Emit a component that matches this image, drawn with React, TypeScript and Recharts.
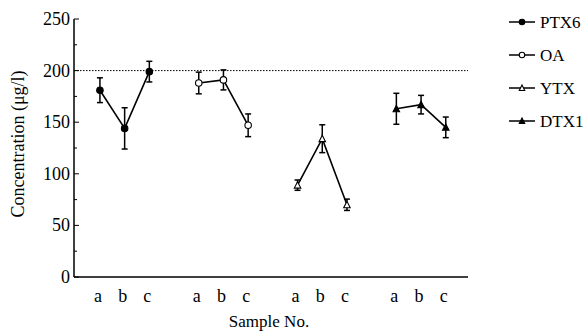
import * as React from "react"
import { LineChart, Line, XAxis, YAxis, ErrorBar, ReferenceLine, Legend } from "recharts"

const sampleLabels = ["a", "b", "c"]
// x slot of each sample on the axis (empty slot between groups)
const ptx6Slots = [1, 2, 3]
const oaSlots = [5, 6, 7]
const ytxSlots = [9, 10, 11]
const dtx1Slots = [13, 14, 15]

const ptx6Values = [181, 144, 199]
const ptx6Errors = [12, 20, 10]
const oaValues = [188, 191, 147]
const oaErrors = [10.5, 9.7, 11]
const ytxValues = [89, 134, 70]
const ytxErrors = [5, 13.5, 5.5]
const dtx1Values = [163, 167, 145]
const dtx1Errors = [15, 9, 10]

const yTicks = [0, 25, 50, 75, 100, 125, 150, 175, 200, 225, 250]
const limitValue = 200

const SERIF = '"Liberation Serif"'
const textStyle = { fontFamily: SERIF }

const build = (slots: number[], values: number[], errors: number[]) =>
  slots.map((x, i) => ({ x, label: sampleLabels[i], value: values[i], err: errors[i] }))

type MarkerKind = "filledCircle" | "openCircle" | "openTriangle" | "filledTriangle"

const Marker = ({ cx, cy, kind, size }: { cx: number; cy: number; kind: MarkerKind; size: number }) => {
  if (kind === "filledCircle" || kind === "openCircle") {
    return (
      <circle
        cx={cx}
        cy={cy}
        r={size / 2}
        fill={kind === "filledCircle" ? "#000" : "#fff"}
        stroke="#000"
        strokeWidth={1.1}
      />
    )
  }
  const h = size * 0.9
  const pts = `${cx},${cy - h / 2 - 0.5} ${cx - size / 2},${cy + h / 2} ${cx + size / 2},${cy + h / 2}`
  return (
    <polygon
      points={pts}
      fill={kind === "filledTriangle" ? "#000" : "#fff"}
      stroke="#000"
      strokeWidth={1.1}
    />
  )
}

const series = [
  { name: "PTX6", kind: "filledCircle" as MarkerKind, data: build(ptx6Slots, ptx6Values, ptx6Errors) },
  { name: "OA", kind: "openCircle" as MarkerKind, data: build(oaSlots, oaValues, oaErrors) },
  { name: "YTX", kind: "openTriangle" as MarkerKind, data: build(ytxSlots, ytxValues, ytxErrors) },
  { name: "DTX1", kind: "filledTriangle" as MarkerKind, data: build(dtx1Slots, dtx1Values, dtx1Errors) },
]

const allSlots = [...ptx6Slots, ...oaSlots, ...ytxSlots, ...dtx1Slots]

const YTick = (props: any) => {
  const { x, y, payload } = props
  const major = payload.value % 50 === 0
  return (
    <g>
      <line x1={x} y1={y} x2={x + (major ? 5 : 3)} y2={y} stroke="#000" strokeWidth={1} />
      {major && (
        <text x={x - 4} y={y} dy={6} textAnchor="end" fontSize={18} style={textStyle} fill="#000">
          {payload.value}
        </text>
      )}
    </g>
  )
}

const XTick = (props: any) => {
  const { x, y, payload } = props
  const idx = allSlots.indexOf(payload.value)
  return (
    <text x={x - 2} y={y} dy={23} textAnchor="middle" fontSize={18} style={textStyle} fill="#000">
      {sampleLabels[idx % 3]}
    </text>
  )
}

const LegendContent = () => (
  <svg width={80} height={130}>
    {series.map((s, i) => {
      const y = 12 + i * 33
      return (
        <g key={s.name}>
          <line x1={4} y1={y} x2={30} y2={y} stroke="#000" strokeWidth={1.5} />
          <Marker cx={17} cy={y} kind={s.kind} size={5.5} />
          <text x={35} y={y} dy={6} fontSize={17} style={textStyle} fill="#000">
            {s.name}
          </text>
        </g>
      )
    })}
  </svg>
)

export default function App() {
  return (
    <div style={{ position: "absolute", left: 0, top: 0, background: "#fff", fontFamily: SERIF }}>
      <style>{`.recharts-wrapper, .recharts-wrapper text, .recharts-legend-wrapper text { font-family: "Liberation Serif" !important; }`}</style>
      <LineChart
        width={585}
        height={332}
        margin={{ top: 19, right: 117, bottom: 0, left: 0 }}
        style={{ fontFamily: SERIF }}
      >
        <XAxis
          type="number"
          dataKey="x"
          domain={[-0.05, 15.9]}
          ticks={allSlots}
          tick={<XTick />}
          tickLine={false}
          tickSize={0}
          height={55}
          stroke="#000"
          strokeWidth={1.5}
          label={(p: any) => {
            const vb = p.viewBox || {}
            return (
              <text
                x={(vb.x ?? 74) + (vb.width ?? 394) / 2 - 2}
                y={327}
                textAnchor="middle"
                fontSize={17}
                style={textStyle}
                fill="#000"
              >
                Sample No.
              </text>
            )
          }}
        />
        <YAxis
          type="number"
          domain={[0, 250]}
          ticks={yTicks}
          interval={0}
          tick={<YTick />}
          tickLine={false}
          tickSize={0}
          tickMargin={0}
          width={74}
          stroke="#000"
          strokeWidth={1.5}
          label={(p: any) => {
            const vb = p.viewBox || {}
            const cy = (vb.y ?? 19) + (vb.height ?? 258) / 2 - 4
            return (
              <text
                x={24}
                y={cy}
                transform={`rotate(-90, 24, ${cy})`}
                textAnchor="middle"
                fontSize={18}
                style={textStyle}
                fill="#000"
              >
                Concentration (μg/l)
              </text>
            )
          }}
        />
        <ReferenceLine y={limitValue} stroke="#000" strokeDasharray="1.5 1.5" strokeWidth={1} />
        <Legend
          layout="horizontal"
          verticalAlign="middle"
          align="center"
          content={<LegendContent />}
          wrapperStyle={{ position: "absolute", left: 505, top: 10, width: 80, height: 130 }}
        />
        {series.map((s) => (
          <Line
            key={s.name}
            name={s.name}
            data={s.data}
            dataKey="value"
            stroke="#000"
            strokeWidth={1.6}
            isAnimationActive={false}
            dot={(p: any) => <Marker key={`${s.name}-${p.index}`} cx={p.cx} cy={p.cy} kind={s.kind} size={6.5} />}
            activeDot={false}
          >
            <ErrorBar dataKey="err" width={3} stroke="#000" strokeWidth={1.5} direction="y" />
          </Line>
        ))}
      </LineChart>
    </div>
  )
}
